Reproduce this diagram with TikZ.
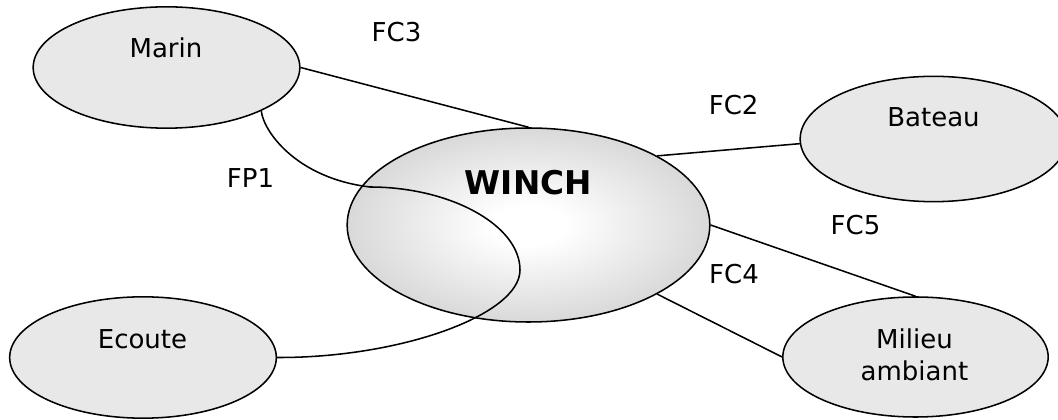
\documentclass[tikz,border=0pt]{standalone}
\usepackage{fontspec}
\setmainfont{DejaVu Sans}
\usetikzlibrary{shapes.geometric}
\definecolor{ellfill}{RGB}{232,232,232}
\definecolor{wedge}{RGB}{188,188,188}
\pgfdeclareradialshading{winchshade}{\pgfpoint{0bp}{0bp}}{color(0bp)=(white); color(5bp)=(white); color(40bp)=(wedge); color(50bp)=(wedge)}
\begin{document}
\begin{tikzpicture}[x=0.75pt,y=-0.75pt,
  ell/.style={ellipse, draw=black, line width=1.15pt, fill=ellfill, inner sep=0pt,
    minimum width=200pt, minimum height=91pt},
  lbl/.style={anchor=base, inner sep=0pt, font=\fontsize{19.5}{24}\selectfont},
  link/.style={draw=black, line width=1.15pt}]
\useasboundingbox (0,0) rectangle (1058,420);
% ellipses
\node[ell] (marin) at (166.5,67.5) {};
\node[ell, minimum height=94pt] (bateau) at (933.5,139) {};
\node[ell] (ecoute) at (143,357.5) {};
\node[ell, minimum width=199pt, minimum height=90pt] (milieu) at (915.5,357) {};
\node[ellipse, draw=black, line width=1.15pt, shading=winchshade, inner sep=0pt,
  minimum width=272pt, minimum height=145.5pt] (winch) at (528.5,225) {};
% texts
\node[lbl] (tmarin) at (166,58) {Marin};
\node[lbl] (tbateau) at (933.5,126.5) {Bateau};
\node[lbl] (tecoute) at (142.5,349) {Ecoute};
\node[anchor=center, inner sep=0pt, align=center, font=\fontsize{19.5}{24}\selectfont] (tmilieu) at (914.5,355) {Milieu\\ambiant};
\node[anchor=base, inner sep=0pt, font=\bfseries\fontsize{24.5}{28}\selectfont] (twinch) at (528.3,195) {WINCH};
% connectors
\draw[link] (marin.east) -- (winch.north);
\draw[link] (winch.north east) -- (bateau.182);
\draw[link] (winch.east) -- (milieu.north);
\draw[link] (winch.south east) -- (milieu.west);
\coordinate (j) at (370,187);
\coordinate (k) at (520,270);
\draw[link] (marin.south east) .. controls (263,130) and (295,178) .. (j)
  .. controls (450,187) and (520,225) .. (k)
  .. controls (520,315) and (400,358) .. (ecoute.east);
% function labels
\node[lbl] (fc3) at (396.5,41.7) {FC3};
\node[lbl] (fp1) at (250.5,187.3) {FP1};
\node[lbl] (fc2) at (733.7,114.3) {FC2};
\node[lbl] (fc5) at (855.5,234.3) {FC5};
\node[lbl] (fc4) at (734,283.3) {FC4};
\end{tikzpicture}
\end{document}
